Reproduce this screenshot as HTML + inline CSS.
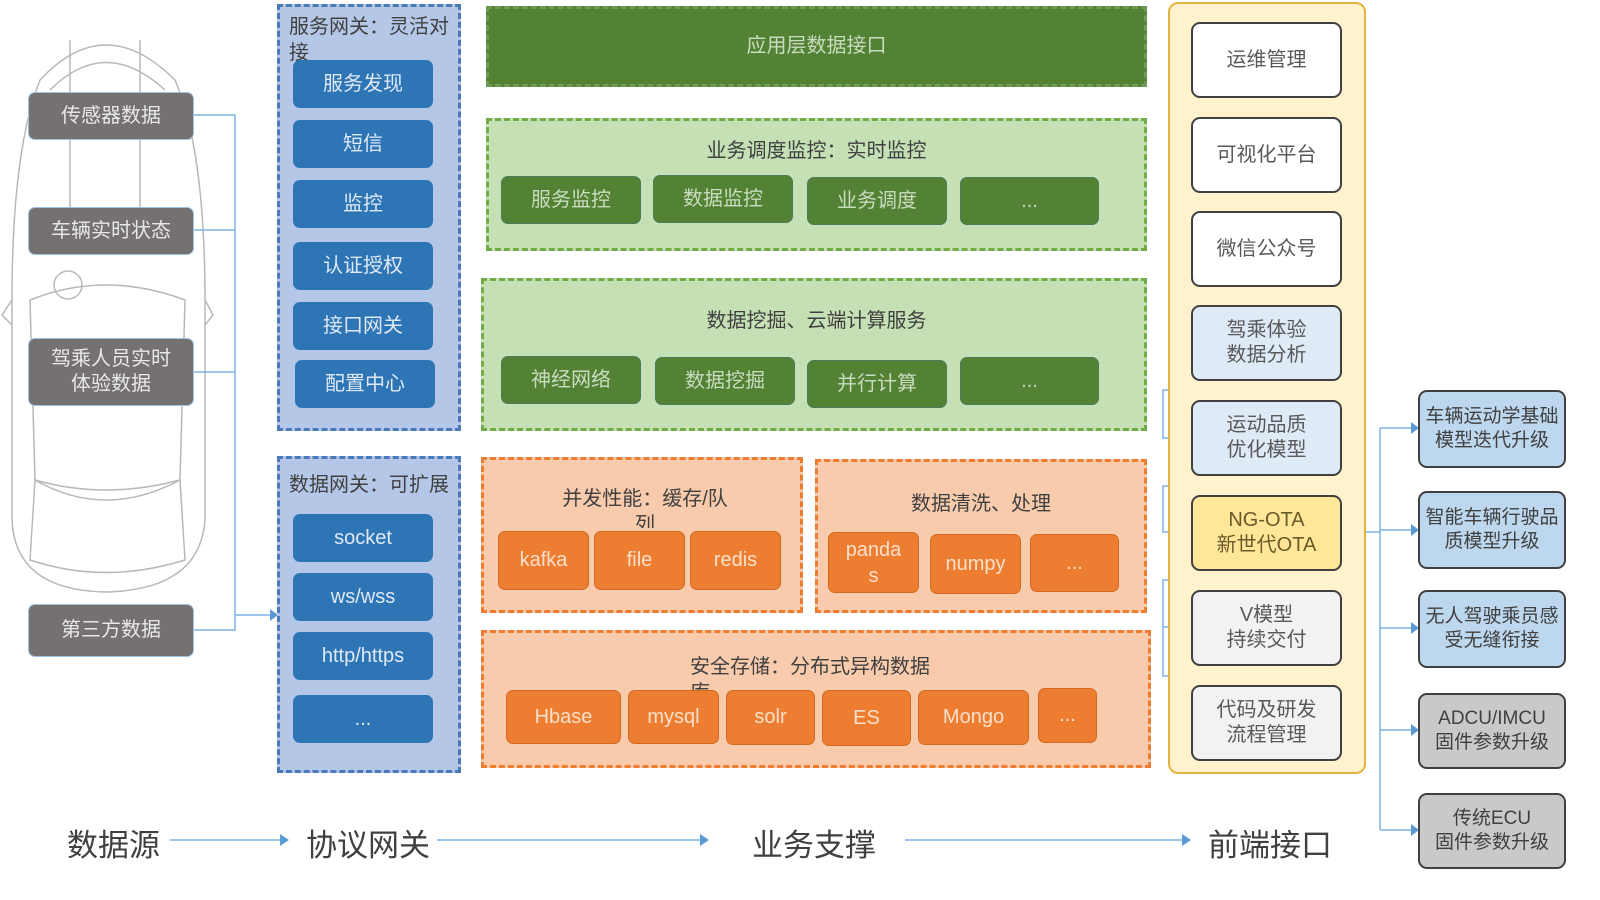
<!DOCTYPE html>
<html><head><meta charset="utf-8">
<style>
*{margin:0;padding:0;box-sizing:border-box}
body{width:1600px;height:900px;background:#fff;position:relative;overflow:hidden;font-family:"Liberation Sans","Noto Sans CJK SC",sans-serif}
.a{position:absolute}
.b{position:absolute;display:flex;align-items:center;justify-content:center;text-align:center;line-height:1.25}
.gr{background:#767171;color:#e8e8e8;border-radius:7px;font-size:20px;border:1px solid #9dc3e6}
.bl{background:#2e75b6;color:#dfe9f5;border-radius:7px;font-size:20px}
.cb{background:#b4c7e7;border:3px dashed #4a7ab8}
.cg{background:#c5e0b4;border:3px dashed #70ad47}
.co{background:#f8cbad;border:3px dashed #ed7d31}
.gb{background:#548235;color:#c8dcc0;border-radius:7px;font-size:20px;border:1px solid #4a7a5a}
.ob{background:#ed7d31;color:#fbe0cc;border-radius:7px;font-size:20px;border:1px solid #d36a20}
.t{color:#404040;font-size:20px}
.f{border:2.5px solid #404040;border-radius:9px;font-size:20px;color:#595959}
.r{border:2.5px solid #404040;border-radius:9px;font-size:19px;color:#404040}
.bt{color:#404040;font-size:31px}
</style></head><body>

<svg class="a" style="left:0;top:0" width="1600" height="900">
<g fill="none" stroke="#b8b8b8" stroke-width="1.5">
<path d="M40 80 Q105 10 175 80 Q205 150 205 300 L205 520 Q200 590 105 592 Q15 590 12 520 L12 300 Q12 150 40 80 Z"/>
<path d="M50 90 Q105 35 165 90"/>
<path d="M30 300 Q105 270 185 300 L180 480 Q105 500 35 480 Z"/>
<path d="M35 480 Q105 520 180 480 L185 560 Q105 585 30 560 Z"/>
<path d="M12 300 L2 315 L12 325 M205 300 L213 315 L205 325"/>
<circle cx="68" cy="285" r="14"/>
<path d="M70 40 L70 250 M140 40 L140 250"/>
</g>
<g stroke="#7fb2e5" stroke-width="1.5" fill="none">
<path d="M193 115 H235 V630 H193 M193 230 H235 M193 372 H235 M235 615 H270"/>
<path d="M170 840 H280 M437 840 H700 M905 840 H1182"/>
<path d="M1293 384 V390 H1163 V438 H1185 M1293 478 V486 H1163 V532 H1185 M1293 573 V580 H1163 V627 H1185 M1293 668 V676 H1163 V627"/>
<path d="M1341 532 H1380 M1380 428 V830 M1380 428 H1412 M1380 530 H1412 M1380 628 H1412 M1380 730 H1412 M1380 830 H1412"/>
</g>
<g fill="#5b9bd5">
<path d="M270 609 L278 615 L270 621Z"/>
<path d="M280 834 L289 840 L280 846Z M700 834 L709 840 L700 846Z M1182 834 L1191 840 L1182 846Z"/>
<path d="M1184 432 L1192 438 L1184 444Z M1184 526 L1192 532 L1184 538Z M1184 621 L1192 627 L1184 633Z"/>
<path d="M1411 422 L1419 428 L1411 434Z M1411 524 L1419 530 L1411 536Z M1411 622 L1419 628 L1411 634Z M1411 724 L1419 730 L1411 736Z M1411 824 L1419 830 L1411 836Z"/>
</g>
</svg>

<div class="b gr" style="left:28px;top:92px;width:166px;height:48px">传感器数据</div>
<div class="b gr" style="left:28px;top:207px;width:166px;height:48px">车辆实时状态</div>
<div class="b gr" style="left:28px;top:338px;width:166px;height:68px">驾乘人员实时<br>体验数据</div>
<div class="b gr" style="left:28px;top:604px;width:166px;height:53px">第三方数据</div>

<div class="a cb" style="left:277px;top:4px;width:184px;height:427px"></div>
<div class="a t" style="left:289px;top:14px;width:160px;line-height:26px;height:48px;overflow:hidden">服务网关：灵活对接</div>
<div class="b bl" style="left:293px;top:60px;width:140px;height:48px">服务发现</div>
<div class="b bl" style="left:293px;top:120px;width:140px;height:48px">短信</div>
<div class="b bl" style="left:293px;top:180px;width:140px;height:48px">监控</div>
<div class="b bl" style="left:293px;top:242px;width:140px;height:48px">认证授权</div>
<div class="b bl" style="left:293px;top:302px;width:140px;height:48px">接口网关</div>
<div class="b bl" style="left:295px;top:360px;width:140px;height:48px">配置中心</div>

<div class="a cb" style="left:277px;top:456px;width:184px;height:317px"></div>
<div class="a t" style="left:289px;top:468px">数据网关：可扩展</div>
<div class="b bl" style="left:293px;top:514px;width:140px;height:48px">socket</div>
<div class="b bl" style="left:293px;top:573px;width:140px;height:48px">ws/wss</div>
<div class="b bl" style="left:293px;top:632px;width:140px;height:48px">http/https</div>
<div class="b bl" style="left:293px;top:695px;width:140px;height:48px">...</div>

<div class="b" style="left:486px;top:6px;width:661px;height:81px;background:#548235;border:3px dashed #6f9a55;color:#c8dcc0;font-size:20px">应用层数据接口</div>

<div class="a cg" style="left:486px;top:118px;width:661px;height:133px"></div>
<div class="b t" style="left:486px;top:138px;width:661px;height:26px">业务调度监控：实时监控</div>
<div class="b gb" style="left:501px;top:176px;width:140px;height:48px">服务监控</div>
<div class="b gb" style="left:653px;top:175px;width:140px;height:48px">数据监控</div>
<div class="b gb" style="left:807px;top:177px;width:140px;height:48px">业务调度</div>
<div class="b gb" style="left:960px;top:177px;width:139px;height:48px">...</div>

<div class="a cg" style="left:481px;top:278px;width:666px;height:153px"></div>
<div class="b t" style="left:486px;top:308px;width:661px;height:26px">数据挖掘、云端计算服务</div>
<div class="b gb" style="left:501px;top:356px;width:140px;height:48px">神经网络</div>
<div class="b gb" style="left:655px;top:357px;width:140px;height:48px">数据挖掘</div>
<div class="b gb" style="left:807px;top:360px;width:140px;height:48px">并行计算</div>
<div class="b gb" style="left:960px;top:357px;width:139px;height:48px">...</div>

<div class="a co" style="left:481px;top:457px;width:322px;height:156px"></div>
<div class="a t" style="left:560px;top:486px;width:170px;line-height:26px;height:42px;overflow:hidden;text-align:center">并发性能：缓存/队列</div>
<div class="b ob" style="left:498px;top:531px;width:91px;height:59px">kafka</div>
<div class="b ob" style="left:594px;top:531px;width:91px;height:59px">file</div>
<div class="b ob" style="left:690px;top:531px;width:91px;height:59px">redis</div>

<div class="a co" style="left:815px;top:459px;width:332px;height:154px"></div>
<div class="b t" style="left:815px;top:491px;width:332px;height:26px">数据清洗、处理</div>
<div class="b ob" style="left:828px;top:532px;width:91px;height:61px;line-height:26px">panda<br>s</div>
<div class="b ob" style="left:930px;top:534px;width:91px;height:60px">numpy</div>
<div class="b ob" style="left:1030px;top:534px;width:89px;height:58px">...</div>

<div class="a co" style="left:481px;top:630px;width:670px;height:138px"></div>
<div class="a t" style="left:690px;top:654px;width:240px;height:38px;line-height:26px;overflow:hidden">安全存储：分布式异构数据库</div>
<div class="b ob" style="left:506px;top:690px;width:115px;height:54px">Hbase</div>
<div class="b ob" style="left:628px;top:690px;width:91px;height:54px">mysql</div>
<div class="b ob" style="left:726px;top:690px;width:89px;height:55px">solr</div>
<div class="b ob" style="left:822px;top:690px;width:89px;height:56px">ES</div>
<div class="b ob" style="left:918px;top:690px;width:111px;height:55px">Mongo</div>
<div class="b ob" style="left:1038px;top:688px;width:59px;height:55px">...</div>

<div class="a" style="left:1168px;top:2px;width:198px;height:772px;background:#fff2cc;border:2px solid #e3b440;border-radius:10px"></div>
<div class="b f" style="left:1191px;top:22px;width:151px;height:76px;background:#fff">运维管理</div>
<div class="b f" style="left:1191px;top:117px;width:151px;height:76px;background:#fff">可视化平台</div>
<div class="b f" style="left:1191px;top:211px;width:151px;height:76px;background:#fff">微信公众号</div>
<div class="b f" style="left:1191px;top:305px;width:151px;height:76px;background:#deebf7">驾乘体验<br>数据分析</div>
<div class="b f" style="left:1191px;top:400px;width:151px;height:76px;background:#deebf7">运动品质<br>优化模型</div>
<div class="b f" style="left:1191px;top:495px;width:151px;height:76px;background:#ffe699;color:#6b5a2a">NG-OTA<br>新世代OTA</div>
<div class="b f" style="left:1191px;top:590px;width:151px;height:76px;background:#f2f2f2">V模型<br>持续交付</div>
<div class="b f" style="left:1191px;top:685px;width:151px;height:76px;background:#f2f2f2">代码及研发<br>流程管理</div>

<div class="b r" style="left:1418px;top:390px;width:148px;height:78px;background:#bdd7ee">车辆运动学基础<br>模型迭代升级</div>
<div class="b r" style="left:1418px;top:491px;width:148px;height:78px;background:#bdd7ee">智能车辆行驶品<br>质模型升级</div>
<div class="b r" style="left:1418px;top:590px;width:148px;height:78px;background:#bdd7ee">无人驾驶乘员感<br>受无缝衔接</div>
<div class="b r" style="left:1418px;top:693px;width:148px;height:76px;background:#c9c9c9">ADCU/IMCU<br>固件参数升级</div>
<div class="b r" style="left:1418px;top:793px;width:148px;height:76px;background:#c9c9c9">传统ECU<br>固件参数升级</div>

<div class="a bt" style="left:67px;top:820px">数据源</div>
<div class="a bt" style="left:306px;top:820px">协议网关</div>
<div class="a bt" style="left:752px;top:820px">业务支撑</div>
<div class="a bt" style="left:1208px;top:820px">前端接口</div>
</body></html>
